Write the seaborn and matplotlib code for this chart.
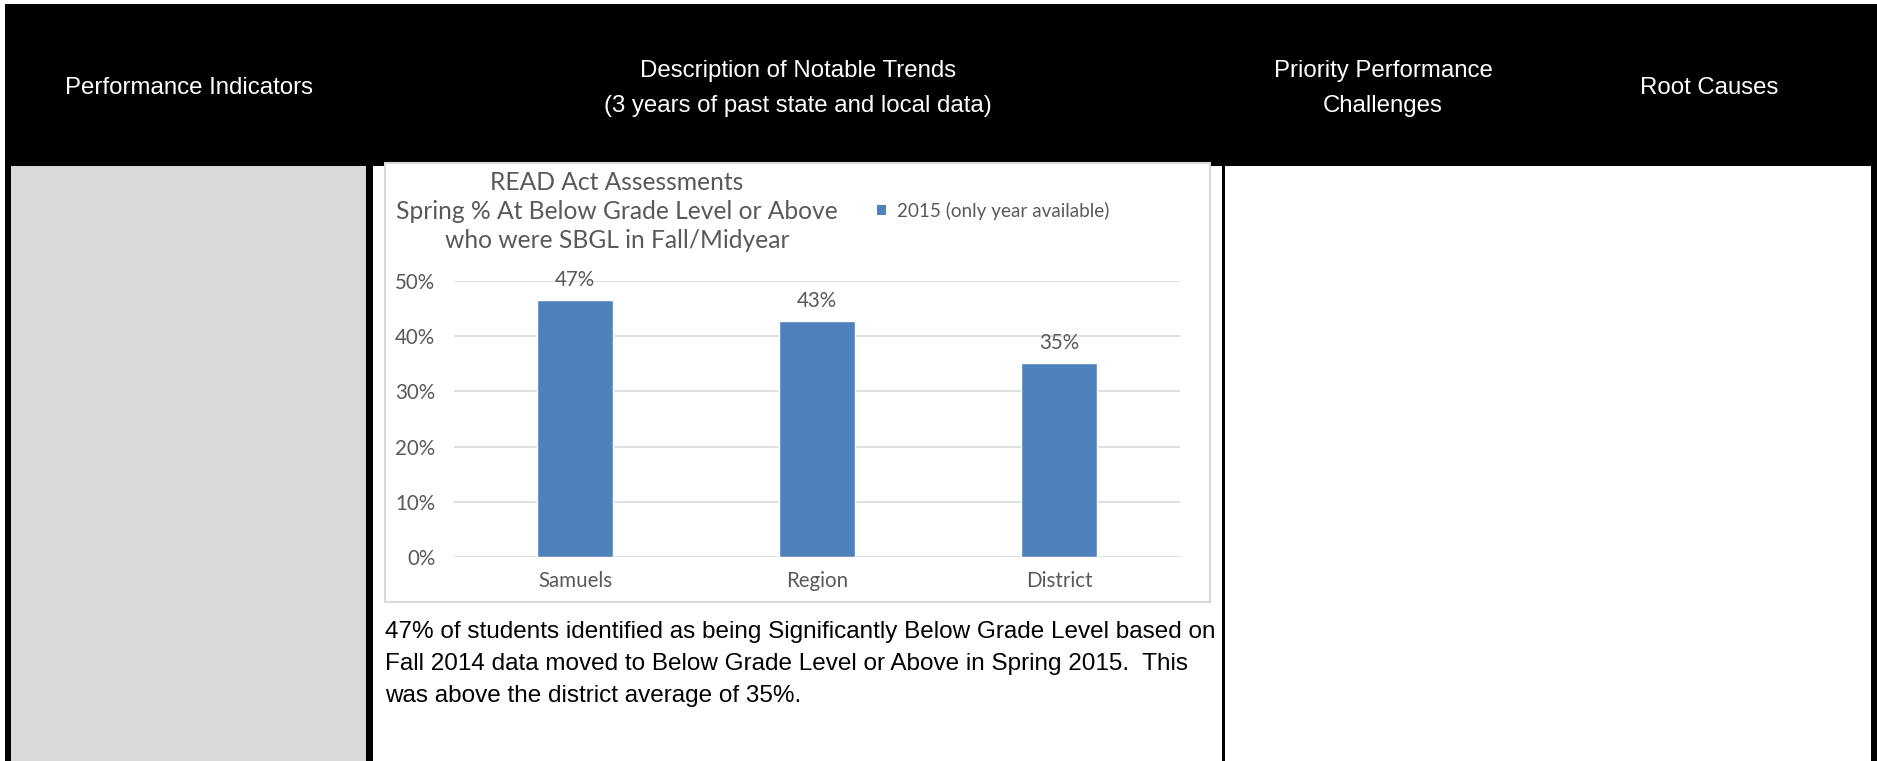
import matplotlib
matplotlib.use("Agg")
import matplotlib.pyplot as plt
from matplotlib.patches import Rectangle, Patch
from matplotlib.ticker import PercentFormatter
import seaborn as sns

# Chart data
categories = ["Samuels", "Region", "District"]
values = [0.466, 0.428, 0.351]
series_name = "2015 (only year available)"
title_lines = ["READ Act Assessments",
               "Spring % At Below Grade Level or Above",
               "who were SBGL in Fall/Midyear"]
y_ticks = [0.0, 0.1, 0.2, 0.3, 0.4, 0.5]

# Table text
header_cols = [
    ["Performance Indicators"],
    ["Description of Notable Trends", "(3 years of past state and local data)"],
    ["Priority Performance", "Challenges"],
    ["Root Causes"],
]
body_lines = [
    "47% of students identified as being Significantly Below Grade Level based on",
    "Fall 2014 data moved to Below Grade Level or Above in Spring 2015.  This",
    "was above the district average of 35%.",
]

sns.set_theme(style="white")
plt.rcParams["font.family"] = ["Liberation Sans", "DejaVu Sans"]

W, H = 1877, 761
DPI = 100
fig = plt.figure(figsize=(W / DPI, H / DPI), dpi=DPI, facecolor="white")

# Page layer in pixel coordinates
bg = fig.add_axes([0, 0, 1, 1], zorder=0)
bg.set_xlim(0, W)
bg.set_ylim(H, 0)
bg.axis("off")

def rect(x0, y0, x1, y1, **kw):
    bg.add_patch(Rectangle((x0, y0), x1 - x0, y1 - y0, **kw))

BLACK = "black"
rect(5, 4, W, 166, facecolor=BLACK, edgecolor="none")          # header row
rect(5, 4, 11, H, facecolor=BLACK, edgecolor="none")           # left border
rect(W - 6, 4, W, H, facecolor=BLACK, edgecolor="none")        # right border
rect(11, 166, 366, H, facecolor="#D9D9D9", edgecolor="none")   # indicator cell
rect(366, 166, 373, H, facecolor=BLACK, edgecolor="none")      # column divider
rect(1222, 166, 1225, H, facecolor=BLACK, edgecolor="none")    # column divider

# Header labels
hdr_x = [189, 798, 1383, 1709]
for x, lines in zip(hdr_x, header_cols):
    ys = [88] if len(lines) == 1 else [71.5, 106]
    for y, s in zip(ys, lines):
        bg.text(x, y, s, color="white", fontsize=17.3, ha="center", va="center",
                family=["Liberation Sans", "DejaVu Sans"])

# Chart frame
rect(385, 163, 1210, 602, facecolor="white", edgecolor="#D9D9D9", linewidth=1.5)

# Body text under the chart
for y, s in zip([638, 670, 702], body_lines):
    bg.text(385, y, s, color="black", fontsize=17.5, ha="left", va="baseline",
            family=["Liberation Sans", "DejaVu Sans"])

CHART_FONT = ["Lato", "DejaVu Sans"]
GREY = "#595959"
BLUE = "#4F81BD"

# Chart title
for y, s in zip([183, 211.5, 240.5], title_lines):
    bg.text(617, y, s, color=GREY, fontsize=17.7, ha="center", va="center",
            family=CHART_FONT)

# Plot area
x0, x1 = 454, 1180
y_top, y_zero = 280.7, 557.2
ax = fig.add_axes([x0 / W, 1 - y_zero / H, (x1 - x0) / W, (y_zero - y_top) / H], zorder=2)
ax.patch.set_alpha(0)

sns.barplot(x=categories, y=values, color=BLUE, width=0.31, saturation=1,
            ax=ax, zorder=3)
ax.set_ylim(0, 0.5)
ax.set_xlim(-0.5, len(categories) - 0.5)
ax.set_yticks(y_ticks)
ax.yaxis.set_major_formatter(PercentFormatter(1.0, decimals=0))
ax.yaxis.grid(True, color="#D9D9D9", linewidth=1.2)
ax.xaxis.grid(False)
ax.set_axisbelow(True)
for sp in ax.spines.values():
    sp.set_visible(False)
ax.tick_params(axis="both", length=0, colors=GREY, labelsize=14.8)
ax.tick_params(axis="y", pad=13.5)
ax.tick_params(axis="x", pad=10)
for lab in ax.get_xticklabels() + ax.get_yticklabels():
    lab.set_family(CHART_FONT)
ax.set_xlabel("")
ax.set_ylabel("")

ax.bar_label(ax.containers[0], labels=[f"{v:.0%}" for v in values],
             padding=7, color=GREY, fontsize=14.8, family=CHART_FONT)

# Legend
handle = Patch(facecolor=BLUE, edgecolor="none", label=series_name)
fig.legend(handles=[handle], loc="center left",
           bbox_to_anchor=(877 / W, 1 - 211 / H), frameon=False,
           prop={"family": CHART_FONT, "size": 13.6},
           labelcolor=GREY, handlelength=0.45, handleheight=0.45,
           handletextpad=0.6, borderpad=0, borderaxespad=0)

fig.savefig("out.png", dpi=DPI, facecolor="white")
